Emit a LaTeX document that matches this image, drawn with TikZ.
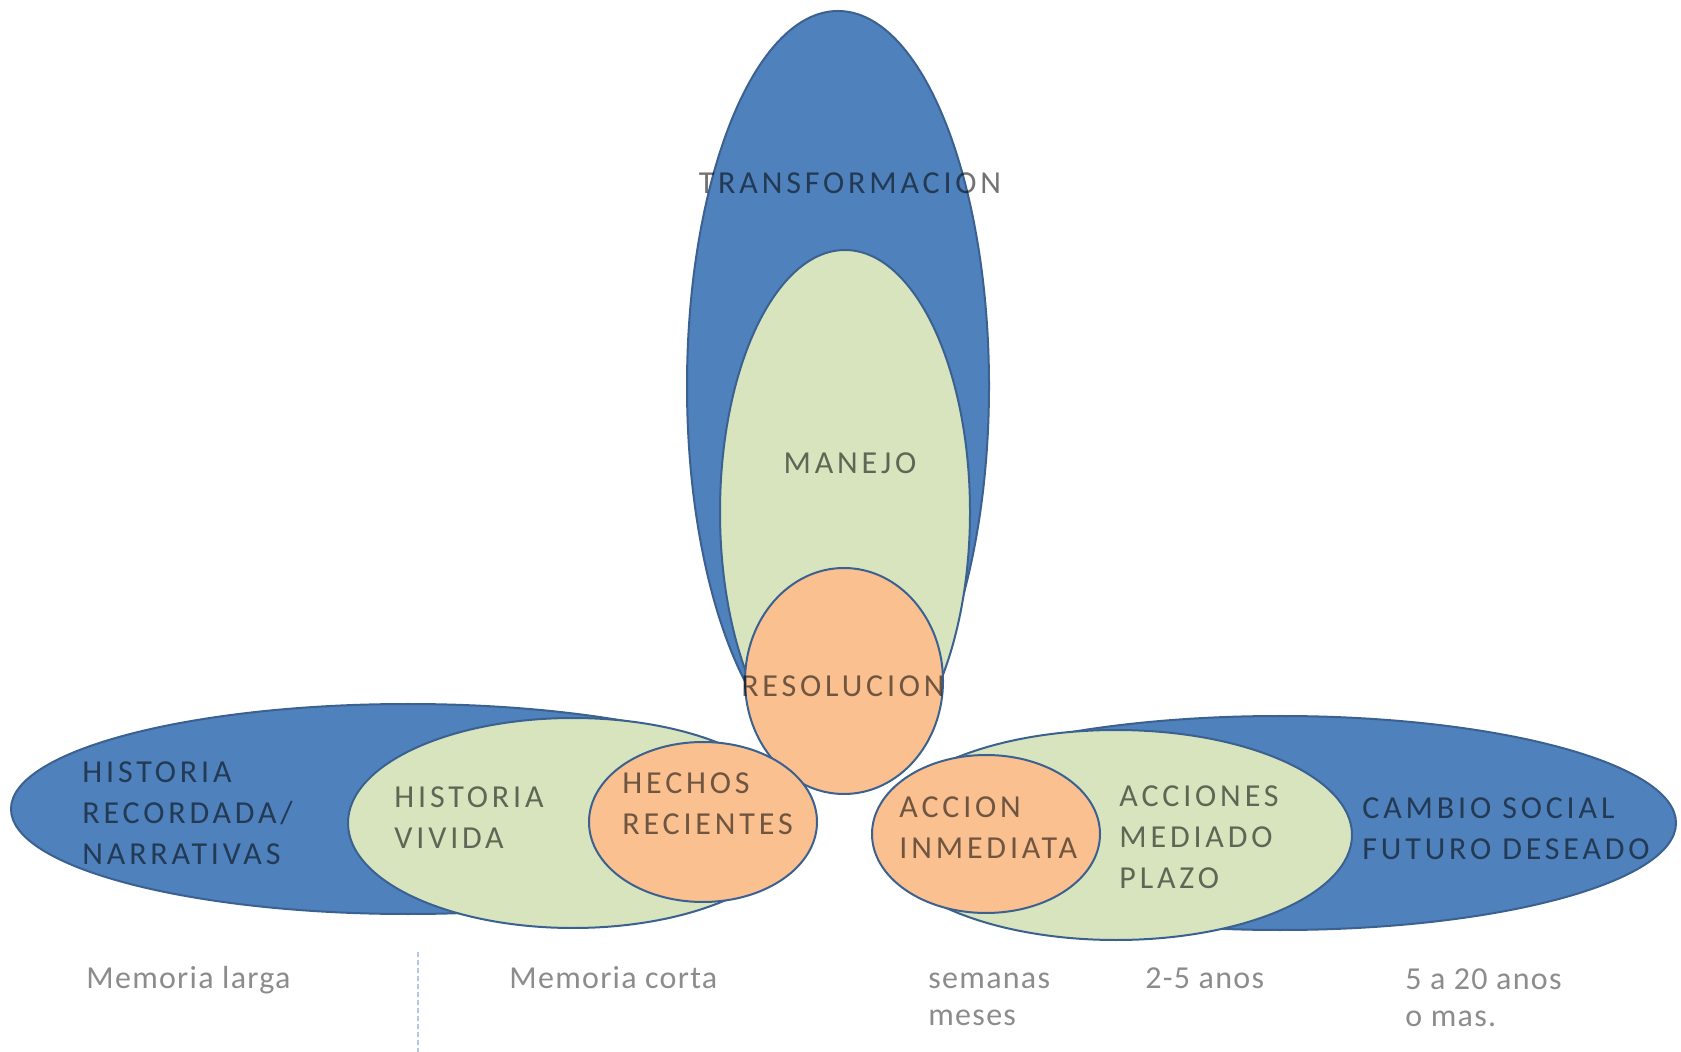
\documentclass[tikz,border=0pt]{standalone}
\usepackage{fontspec}
\setmainfont{Carlito}
\newfontfamily\capfont[LetterSpace=12]{Carlito}
\newfontfamily\lowfont[LetterSpace=4]{Carlito}
\usetikzlibrary{shapes.geometric}
\definecolor{myblue}{HTML}{4F81BD}
\definecolor{edgeblue}{HTML}{3A6190}
\definecolor{mygreen}{HTML}{D7E4BD}
\definecolor{myorange}{HTML}{FAC090}
\definecolor{dashblue}{HTML}{B4C7E7}
\definecolor{subgray}{HTML}{8C8C8C}
\begin{document}
\begin{tikzpicture}[x=0.5pt,y=-0.5pt,
  blob/.style={ellipse, draw=edgeblue, line width=1pt, inner sep=0pt, outer sep=0pt},
  bluebl/.style={blob, fill=myblue},
  greenbl/.style={blob, fill=mygreen},
  orangebl/.style={blob, fill=myorange},
  lab/.style={inner sep=0pt, font=\capfont\fontsize{16}{20.5}\selectfont, text=black, text opacity=0.55, align=left},
  sub/.style={inner sep=0pt, font=\lowfont\fontsize{16}{18.5}\selectfont, text=subgray, align=left},
  dashline/.style={draw=dashblue, line width=1.2pt, dash pattern=on 2.5pt off 1.5pt}
]
\useasboundingbox[fill=white] (0,0) rectangle (1681,1052);

% top group
\node[bluebl, minimum width=151pt, minimum height=375pt] (topB) at (838,386) {};
\node[greenbl, minimum width=125pt, minimum height=262pt] (topG) at (845,512) {};
\node[orangebl, minimum width=99pt, minimum height=113pt] (topO) at (844,681) {};

% left group
\node[bluebl, minimum width=397pt, minimum height=105pt] (leftB) at (408,809) {};
\node[greenbl, minimum width=225pt, minimum height=105pt] (leftG) at (573,823) {};
\node[orangebl, minimum width=114pt, minimum height=80pt] (leftO) at (703,822) {};

% right group
\node[bluebl, minimum width=396pt, minimum height=107pt] (rightB) at (1280,823) {};
\node[greenbl, minimum width=236pt, minimum height=105pt] (rightG) at (1116,835) {};
\node[orangebl, minimum width=114pt, minimum height=79pt] (rightO) at (986,834) {};

% labels in shapes
\node[lab] (tTrans) at (850,183) {TRANSFORMACION};
\node[lab] (tManejo) at (850,463) {MANEJO};
\node[lab] (tResol) at (843,686) {RESOLUCION};
\node[lab, anchor=west] (tHistR) at (82,813) {HISTORIA\\RECORDADA/\\NARRATIVAS};
\node[lab, anchor=west] (tHistV) at (394,818) {HISTORIA\\VIVIDA};
\node[lab, anchor=west] (tHechos) at (622,804) {HECHOS\\RECIENTES};
\node[lab, anchor=west] (tAccion) at (899,828) {ACCION\\INMEDIATA};
\node[lab, anchor=west] (tAcciones) at (1119,837) {ACCIONES\\MEDIADO\\PLAZO};
\node[lab, anchor=west] (tCambio) at (1362,829) {CAMBIO SOCIAL\\FUTURO DESEADO};

% bottom labels
\node[sub, anchor=base west] (bLarga) at (86,988) {Memoria larga};
\node[sub, anchor=base west] (bCorta) at (509,988) {Memoria corta};
\node[sub, anchor=north west] (bSem) at (928,973) {semanas\\meses};
\node[sub, anchor=base west] (b25) at (1145,988) {2-5 anos};
\node[sub, anchor=north west] (b520) at (1405,968) {5 a 20 anos\\o mas.};

% dashed divider
\coordinate (dTop) at (418,952);
\coordinate (dBot) at (418,1052);
\draw[dashline] (dTop) -- (dBot);
\end{tikzpicture}
\end{document}
